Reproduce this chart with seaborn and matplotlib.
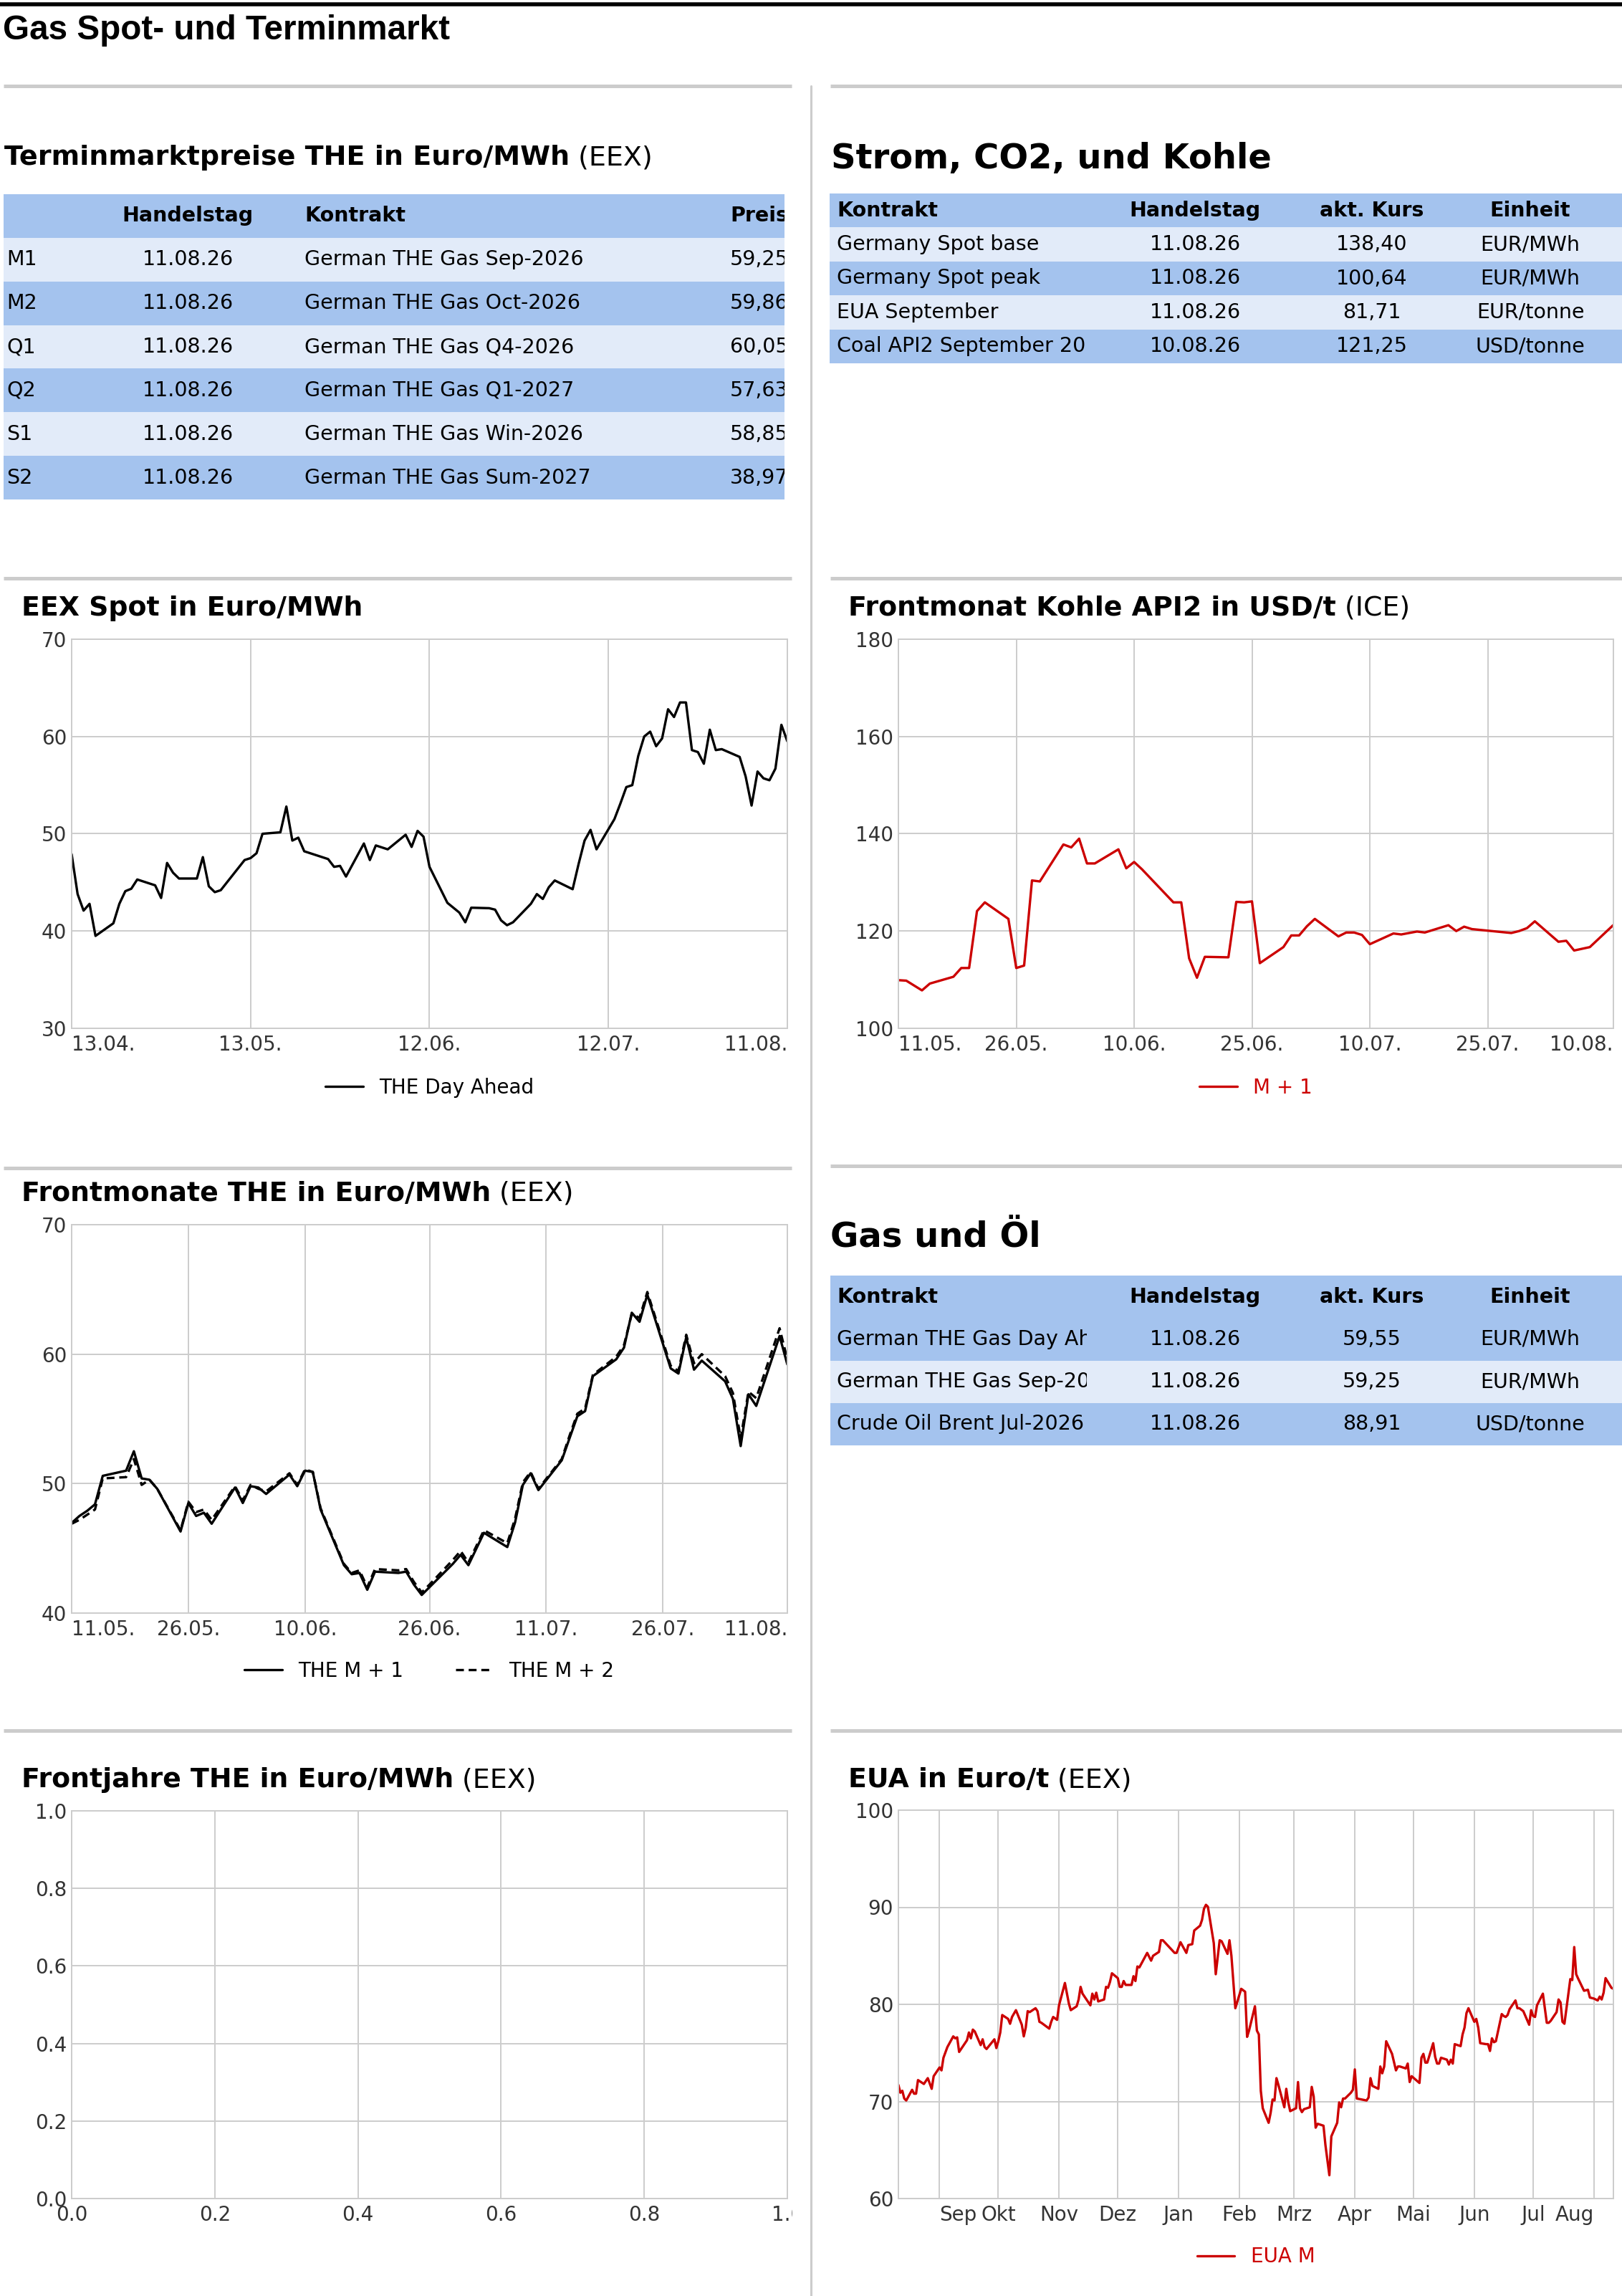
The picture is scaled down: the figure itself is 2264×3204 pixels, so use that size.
import matplotlib

matplotlib.use("Agg")
import matplotlib.pyplot as plt
import pandas as pd
import seaborn as sns
from matplotlib.lines import Line2D
from matplotlib.patches import Rectangle
from matplotlib.transforms import Bbox, TransformedBbox

W, H = 2264, 3204
DARK = "#a4c3ee"
LIGHT = "#e2ebf9"
GRID = "#cccccc"
RED = "#cc0000"

# --- tables -------------------------------------------------------------
termin_header = ["", "Handelstag", "Kontrakt", "Preis"]
termin_rows = [
    ["M1", "11.08.26", "German THE Gas Sep-2026", "59,25"],
    ["M2", "11.08.26", "German THE Gas Oct-2026", "59,86"],
    ["Q1", "11.08.26", "German THE Gas Q4-2026", "60,05"],
    ["Q2", "11.08.26", "German THE Gas Q1-2027", "57,63"],
    ["S1", "11.08.26", "German THE Gas Win-2026", "58,85"],
    ["S2", "11.08.26", "German THE Gas Sum-2027", "38,97"],
]
kurs_header = ["Kontrakt", "Handelstag", "akt. Kurs", "Einheit"]
strom_rows = [
    ["Germany Spot base", "11.08.26", "138,40", "EUR/MWh"],
    ["Germany Spot peak", "11.08.26", "100,64", "EUR/MWh"],
    ["EUA September", "11.08.26", "81,71", "EUR/tonne"],
    ["Coal API2 September 2026", "10.08.26", "121,25", "USD/tonne"],
]
gasoel_rows = [
    ["German THE Gas Day Ahead", "11.08.26", "59,55", "EUR/MWh"],
    ["German THE Gas Sep-2026", "11.08.26", "59,25", "EUR/MWh"],
    ["Crude Oil Brent Jul-2026", "11.08.26", "88,91", "USD/tonne"],
]

# --- EEX spot (days after 13.04.2026) ----------------------------------
spot_start = "2026-04-13"
spot_days = [0, 1, 2, 3, 4, 7, 8, 9, 10, 11, 14, 15, 16, 17, 18, 21, 22, 23, 24, 25,
             29, 30, 31, 32, 35, 36, 37, 38, 39, 43, 44, 45, 46, 49, 50, 51, 53,
             56, 57, 58, 59, 60, 63, 65, 66, 67, 70, 71, 72, 73, 74, 77, 78, 79, 80, 81,
             84, 85, 86, 87, 88, 91, 92, 93, 94, 95, 96, 97, 98, 99, 100, 101, 102, 103,
             104, 105, 106, 107, 108, 109, 112, 113, 114, 115, 116, 117, 118, 119, 120]
spot_values = [47.9, 43.8, 42.1, 42.8, 39.5, 40.8, 42.8, 44.1, 44.35, 45.3,
               44.7, 43.4, 47.0, 46.0, 45.4, 45.4, 47.6, 44.6, 44.0, 44.2,
               47.3, 47.5, 48.0, 50.0, 50.15, 52.8, 49.3, 49.6, 48.2, 47.4,
               46.6, 46.7, 45.6, 49.0, 47.3, 48.8, 48.4, 49.9, 48.65, 50.3,
               49.7, 46.6, 42.9, 41.9, 40.9, 42.4, 42.35, 42.2, 41.1, 40.6,
               40.9, 42.8, 43.8, 43.3, 44.5, 45.2, 44.3, 46.9, 49.3, 50.4,
               48.4, 51.5, 53.1, 54.8, 55.0, 58.0, 60.0, 60.5, 59.0, 59.8,
               62.8, 62.0, 63.5, 63.5, 58.6, 58.4, 57.2, 60.7, 58.6, 58.7,
               57.9, 55.9, 52.9, 56.4, 55.7, 55.5, 56.7, 61.2, 59.5]
spot_ticks = ["2026-04-13", "2026-05-13", "2026-06-12", "2026-07-12", "2026-08-11"]

# --- Kohle API2 M+1 (days after 11.05.2026) ----------------------------
coal_start = "2026-05-11"
coal_days = [0, 1, 3, 4, 7, 8, 9, 10, 11, 14, 15, 16, 17, 18, 21, 22, 23, 24, 25,
             28, 29, 30, 31, 35, 36, 37, 38, 39, 42, 43, 44, 45, 46, 49, 50, 51, 52, 53,
             56, 57, 58, 59, 60, 63, 64, 66, 67, 70, 71, 72, 73, 78, 79, 80, 81,
             84, 85, 86, 88, 91]
coal_values = [109.9, 109.8, 107.8, 109.2, 110.6, 112.4, 112.4, 124.1, 125.9,
               122.5, 112.4, 112.9, 130.4, 130.2, 137.8, 137.2, 139.0, 133.9, 133.9,
               136.8, 132.9, 134.2, 132.7, 125.9, 125.9, 114.4, 110.4, 114.7,
               114.6, 126.0, 125.9, 126.1, 113.4, 116.7, 119.1, 119.1, 121.0, 122.5,
               118.9, 119.7, 119.7, 119.2, 117.3, 119.5, 119.3, 119.9, 119.7,
               121.2, 120.0, 120.9, 120.4, 119.6, 120.0, 120.6, 122.0,
               117.8, 118.0, 116.0, 116.7, 121.25]
coal_ticks = ["2026-05-11", "2026-05-26", "2026-06-10", "2026-06-25", "2026-07-10",
              "2026-07-25", "2026-08-10"]

# --- Frontmonate THE (days after 11.05.2026) ---------------------------
front_start = "2026-05-11"
front_days = [0, 1, 2, 3, 4, 7, 8, 9, 10, 11, 14, 15, 16, 17, 18, 21, 22, 23, 24, 25,
              28, 29, 30, 31, 32, 35, 36, 37, 38, 39, 42, 43, 44, 45, 46, 49, 50, 51, 53,
              56, 57, 58, 59, 60, 63, 64, 65, 66, 67, 70, 71, 72, 73, 74,
              77, 78, 79, 80, 81, 84, 85, 86, 87, 88, 91, 92]
m1_values = [46.96, 47.5, 47.9, 48.4, 50.6, 51.0, 52.5, 50.4, 50.3, 49.6,
             46.3, 48.5, 47.5, 47.75, 46.9, 49.7, 48.5, 49.8, 49.7, 49.2,
             50.7, 49.8, 51.0, 50.9, 48.0, 43.7, 43.0, 43.1, 41.8, 43.2,
             43.1, 43.2, 42.2, 41.4, 42.0, 43.8, 44.5, 43.7, 46.2,
             45.1, 47.0, 49.9, 50.8, 49.5, 51.8, 53.5, 55.2, 55.6, 58.3,
             59.6, 60.5, 63.2, 62.5, 64.6, 58.9, 58.5, 61.3, 58.8, 59.5,
             57.9, 56.55, 52.9, 56.9, 56.0, 61.4, 59.2]
m2_values = [46.9, 47.2, 47.6, 48.0, 50.4, 50.5, 51.9, 49.9, 50.3, 49.6,
             46.4, 48.6, 47.8, 48.0, 47.2, 49.8, 48.7, 49.9, 49.6, 49.4,
             50.8, 49.9, 51.1, 50.9, 48.1, 43.8, 43.1, 43.3, 42.0, 43.4,
             43.3, 43.4, 42.4, 41.6, 42.2, 44.1, 44.8, 43.9, 46.4,
             45.4, 47.3, 50.1, 50.9, 49.6, 51.9, 53.7, 55.4, 55.8, 58.4,
             59.8, 60.7, 63.1, 62.8, 64.8, 59.1, 58.7, 61.5, 59.3, 60.0,
             58.3, 57.0, 53.5, 57.1, 56.6, 62.0, 59.6]
front_ticks = ["2026-05-11", "2026-05-26", "2026-06-10", "2026-06-26", "2026-07-11",
               "2026-07-26", "2026-08-11"]

# --- EUA (day after 11.08.2025, value) ---------------------------------
eua_start = "2025-08-11"
eua_2025 = [(0, 71.7), (1, 70.9), (2, 71.1), (3, 70.3), (4, 70.1), (7, 71.2), (8, 70.8),
            (9, 70.8), (10, 72.2), (13, 71.8), (15, 72.4), (17, 71.3), (18, 72.6),
            (21, 73.5), (22, 73.2), (23, 74.5), (25, 75.6), (28, 76.7), (29, 76.5),
            (30, 76.6), (31, 75.1), (35, 76.3), (36, 77.1), (37, 76.5), (38, 77.4),
            (39, 77.2), (42, 75.8), (43, 76.4), (44, 75.6), (45, 75.4), (49, 76.4),
            (50, 75.5), (51, 76.2), (52, 77.1), (53, 78.9), (56, 78.5), (57, 78.0),
            (58, 78.7), (60, 79.4), (63, 77.9), (64, 76.7), (65, 77.6), (66, 79.3),
            (67, 79.2), (70, 79.6), (71, 79.3), (72, 78.2), (73, 78.1), (77, 77.5),
            (78, 78.2), (79, 78.7), (81, 78.4), (82, 79.9), (85, 82.2), (87, 80.1),
            (88, 79.4), (91, 79.8), (92, 80.5), (93, 81.8), (94, 81.1), (98, 79.9),
            (99, 81.1), (100, 80.5), (101, 81.2), (102, 80.3), (105, 80.5), (106, 81.8),
            (107, 81.7), (108, 82.3), (109, 83.2), (112, 82.7), (113, 81.8), (114, 81.8),
            (115, 82.4), (116, 82.0), (119, 82.0), (120, 82.9), (121, 82.4), (122, 83.9),
            (123, 83.8), (127, 85.3), (129, 84.5), (130, 85.0), (133, 85.4), (134, 86.6),
            (135, 86.6), (141, 85.3)]
eua_2026 = [(142, 85.3), (144, 86.4), (147, 85.3), (148, 86.1), (150, 86.2), (151, 87.6),
            (154, 88.1), (155, 88.7), (156, 89.85), (157, 90.25), (158, 90.05), (161, 86.3),
            (162, 83.1), (164, 86.6), (165, 86.5), (168, 85.2), (169, 86.6), (170, 85.0),
            (172, 79.6), (175, 81.6), (177, 81.3), (178, 76.65), (179, 77.3), (182, 79.8),
            (183, 77.3), (184, 76.9), (185, 71.1), (186, 69.3), (189, 67.8), (190, 68.8),
            (191, 70.2), (192, 70.1), (193, 72.4), (194, 71.7), (197, 69.4), (198, 71.3),
            (199, 69.95), (200, 69.0), (203, 69.3), (204, 72.0), (205, 69.3), (206, 68.9),
            (207, 69.2), (210, 69.4), (211, 71.5), (212, 70.5), (213, 67.3), (214, 67.7),
            (217, 67.5), (218, 65.5), (220, 62.4), (221, 66.4), (224, 67.8), (225, 69.9),
            (226, 69.4), (227, 70.3), (228, 70.3), (231, 70.9), (232, 71.2), (233, 73.3),
            (234, 70.3), (239, 70.1), (240, 70.4), (241, 72.4), (242, 71.6), (245, 71.3),
            (246, 73.6), (247, 72.9), (248, 73.6), (249, 76.2), (252, 74.9), (254, 73.2),
            (255, 73.6), (256, 73.6), (259, 73.4), (260, 73.9), (261, 72.0), (262, 72.6),
            (266, 71.9), (267, 74.5), (268, 74.9), (269, 74.0), (270, 74.0), (273, 76.0),
            (274, 74.6), (275, 73.9), (276, 73.9), (277, 74.5), (280, 74.3), (281, 73.8),
            (282, 74.3), (283, 73.9), (284, 75.9), (287, 75.7), (288, 76.9), (289, 77.6),
            (290, 79.1), (291, 79.6), (294, 78.2), (295, 78.5), (296, 77.6), (297, 76.0),
            (300, 75.9), (301, 75.9), (302, 75.2), (303, 76.5), (304, 76.1), (305, 76.2),
            (308, 79.0), (309, 78.8), (310, 78.7), (311, 78.9), (312, 79.5), (315, 80.4),
            (316, 79.6), (317, 79.6), (319, 79.3), (322, 77.9), (323, 79.4), (324, 78.8),
            (325, 78.7), (326, 79.9), (329, 81.1), (331, 78.1), (332, 78.1), (333, 78.3),
            (336, 79.2), (337, 80.5), (338, 80.2), (339, 78.2), (340, 78.0), (343, 82.6),
            (344, 82.5), (345, 85.9), (346, 83.1), (347, 82.65), (350, 81.4), (352, 81.5),
            (353, 80.7), (355, 80.6), (357, 80.4), (358, 80.8), (359, 80.5), (360, 81.2),
            (361, 82.7), (364, 81.7), (365, 81.6)]
eua_ticks = ["2025-09-01", "2025-10-01", "2025-11-01", "2025-12-01", "2026-01-01",
             "2026-02-01", "2026-03-01", "2026-04-01", "2026-05-01", "2026-06-01",
             "2026-07-01", "2026-08-01"]
eua_labels = ["Sep", "Okt", "Nov", "Dez", "Jan", "Feb", "Mrz", "Apr", "Mai", "Jun",
              "Jul", "Aug"]

year_ticks = [0.0, 0.2, 0.4, 0.6, 0.8, 1.0]


def to_frame(start, days, values):
    return pd.DataFrame({
        "date": pd.Timestamp(start) + pd.to_timedelta(days, unit="D"),
        "value": values,
    })


sns.set_theme(style="whitegrid")
plt.rcParams["font.family"] = ["DejaVu Sans"]
plt.rcParams["text.color"] = "black"

fig = plt.figure(figsize=(W / 100, H / 100), dpi=100)
renderer = fig.canvas.get_renderer()
LW = 2.4
DASH = (3.3, 2.0)


def fx(x):
    return x / W


def fy(y):
    return 1 - y / H


def axes_px(x0, y0, x1, y1):
    return fig.add_axes([fx(x0), fy(y1), (x1 - x0) / W, (y1 - y0) / H])


def hline(x0, x1, y, color=GRID, lw=3.6):
    fig.add_artist(Line2D([fx(x0), fx(x1)], [fy(y), fy(y)], color=color, lw=lw,
                          solid_capstyle="butt"))


def title(x, y, bold, normal="", size=27.3):
    t = fig.text(fx(x), fy(y), bold, fontsize=size, fontweight="bold", va="baseline",
                 color="black")
    if normal:
        bb = t.get_window_extent(renderer)
        fig.text(bb.x1 / W, fy(y), " " + normal, fontsize=size, va="baseline",
                 color="black")


def table(x0, y0, x1, y1, header, rows, cols, first_light, clip_first=None):
    n = len(rows) + 1
    ax = axes_px(x0, y0, x1, y1)
    ax.set_xlim(x0, x1)
    ax.set_ylim(n, 0)
    ax.axis("off")
    for i in range(n):
        light = i > 0 and ((i - 1) % 2 == 0) == first_light
        ax.add_patch(Rectangle((x0, i), x1 - x0, 1, color=LIGHT if light else DARK, lw=0))
    for i, row in enumerate([header] + rows):
        for j, (text, (xpos, ha)) in enumerate(zip(row, cols)):
            t = ax.text(xpos, i + 0.5, text, ha=ha, va="center", fontsize=20.5,
                        fontweight="bold" if i == 0 else "normal", color="black",
                        clip_on=True)
            if j == 0 and clip_first:
                t.set_clip_path(Rectangle((x0, 0), clip_first - x0, n, transform=ax.transData))
    return ax


def style_axes(ax, ylim, yticks):
    ax.set_ylim(*ylim)
    ax.set_yticks(yticks)
    ax.grid(True, color=GRID, lw=1.4)
    for s in ax.spines.values():
        s.set_color(GRID)
        s.set_linewidth(1.4)
    ax.tick_params(axis="both", length=0, labelsize=20, labelcolor="#333333")
    ax.tick_params(axis="y", pad=5)
    ax.tick_params(axis="x", pad=6.5)
    ax.set_xlabel("")
    ax.set_ylabel("")


def date_axis(ax, start, end, ticks, labels=None):
    ticks = [pd.Timestamp(t) for t in ticks]
    ax.set_xlim(pd.Timestamp(start), pd.Timestamp(end))
    ax.set_xticks(ticks)
    if labels is None:
        labels = [t.strftime("%d.%m.") for t in ticks]
    ax.set_xticklabels(labels)
    lbls = ax.get_xticklabels()
    lbls[0].set_ha("left")
    lbls[-1].set_ha("right")


def legend(ax, entries, y, red=False):
    handles = [Line2D([], [], color=c, lw=LW, ls=ls) for _, c, ls in entries]
    ax.legend(handles, [e[0] for e in entries], loc="center", bbox_to_anchor=(0.5, y),
              ncol=len(entries), frameon=False, fontsize=20, handlelength=1.9,
              handletextpad=0.8, columnspacing=2.6,
              labelcolor=RED if red else "black")


# --- frame lines -------------------------------------------------------
hline(0, W, 6, color="black", lw=4)
fig.text(fx(4), fy(55), "Gas Spot- und Terminmarkt", fontsize=34.3, fontweight="bold",
         family=["Liberation Sans", "DejaVu Sans"], va="baseline", color="black")
for y in (120, 807, 1630, 2415):
    hline(5, 1105, y)
for y in (120, 807, 1627, 2415):
    hline(1159, W, y)
fig.add_artist(Line2D([fx(1132), fx(1132)], [fy(120), 0], color=GRID, lw=2.2))

# --- tables --------------------------------------------------------------
title(6, 230, "Terminmarktpreise THE in Euro/MWh", "(EEX)", size=27.4)
table(5, 271, 1095, 697, termin_header, termin_rows,
      [(9, "left"), (262, "center"), (425, "left"), (1019, "left")], first_light=True)

kurs_cols = [(1168, "left"), (1668, "center"), (1915, "center"), (2136, "center")]
title(1160, 235, "Strom, CO2, und Kohle", size=34.6)
table(1158, 270, W, 507, kurs_header, strom_rows, kurs_cols, first_light=True,
      clip_first=1517)

title(1159, 1739, "Gas und Öl", size=34.6)
table(1159, 1780, W, 2017, kurs_header, gasoel_rows, kurs_cols, first_light=False,
      clip_first=1517)

# --- EEX Spot ------------------------------------------------------------
title(30, 859, "EEX Spot in Euro/MWh")
ax = axes_px(100, 892, 1099, 1435)
sns.lineplot(data=to_frame(spot_start, spot_days, spot_values), x="date", y="value",
             color="black", lw=LW, estimator=None, ax=ax)
style_axes(ax, (30, 70), [30, 40, 50, 60, 70])
date_axis(ax, "2026-04-13", "2026-08-11", spot_ticks)
legend(ax, [("THE Day Ahead", "black", "-")], -0.152)

# --- Kohle ----------------------------------------------------------------
title(1184, 859, "Frontmonat Kohle API2 in USD/t", "(ICE)")
ax = axes_px(1254, 892, 2252, 1435)
sns.lineplot(data=to_frame(coal_start, coal_days, coal_values), x="date", y="value",
             color=RED, lw=LW, estimator=None, ax=ax)
style_axes(ax, (100, 180), [100, 120, 140, 160, 180])
date_axis(ax, "2026-05-11", "2026-08-10", coal_ticks)
legend(ax, [("M + 1", RED, "-")], -0.152, red=True)

# --- Frontmonate ---------------------------------------------------------
title(30, 1676, "Frontmonate THE in Euro/MWh", "(EEX)")
ax = axes_px(100, 1709, 1099, 2251)
front = pd.concat([
    to_frame(front_start, front_days, m1_values).assign(series="THE M + 1"),
    to_frame(front_start, front_days, m2_values).assign(series="THE M + 2"),
])
sns.lineplot(data=front, x="date", y="value", hue="series", style="series",
             palette={"THE M + 1": "black", "THE M + 2": "black"},
             dashes={"THE M + 1": "", "THE M + 2": DASH},
             lw=LW, estimator=None, legend=False, ax=ax)
style_axes(ax, (40, 70), [40, 50, 60, 70])
date_axis(ax, "2026-05-11", "2026-08-11", front_ticks)
legend(ax, [("THE M + 1", "black", "-"), ("THE M + 2", "black", (0, DASH))], -0.149)

# --- Frontjahre (empty) ----------------------------------------------------
title(30, 2494, "Frontjahre THE in Euro/MWh", "(EEX)")
ax = axes_px(100, 2527, 1099, 3068)
ax.set_xlim(0, 1)
style_axes(ax, (0, 1), year_ticks)
ax.set_xticks(year_ticks)
ax.set_xticklabels([f"{t:.1f}" for t in year_ticks])
ax.set_yticklabels([f"{t:.1f}" for t in year_ticks])
clip = TransformedBbox(Bbox([[0, 0], [1106 / W, 1]]), fig.transFigure)
for lbl in ax.get_xticklabels():
    lbl.set_clip_on(True)
    lbl.set_clip_box(clip)

# --- EUA -------------------------------------------------------------------
title(1184, 2494, "EUA in Euro/t", "(EEX)")
ax = axes_px(1254, 2526, 2252, 3068)
eua = eua_2025 + eua_2026
sns.lineplot(data=to_frame(eua_start, [d for d, _ in eua], [v for _, v in eua]),
             x="date", y="value", color=RED, lw=LW, estimator=None, ax=ax)
style_axes(ax, (60, 100), [60, 70, 80, 90, 100])
date_axis(ax, "2025-08-11", "2026-08-11", eua_ticks, eua_labels)
legend(ax, [("EUA M", RED, "-")], -0.150, red=True)

fig.savefig("out.png", dpi=100, facecolor="white")
